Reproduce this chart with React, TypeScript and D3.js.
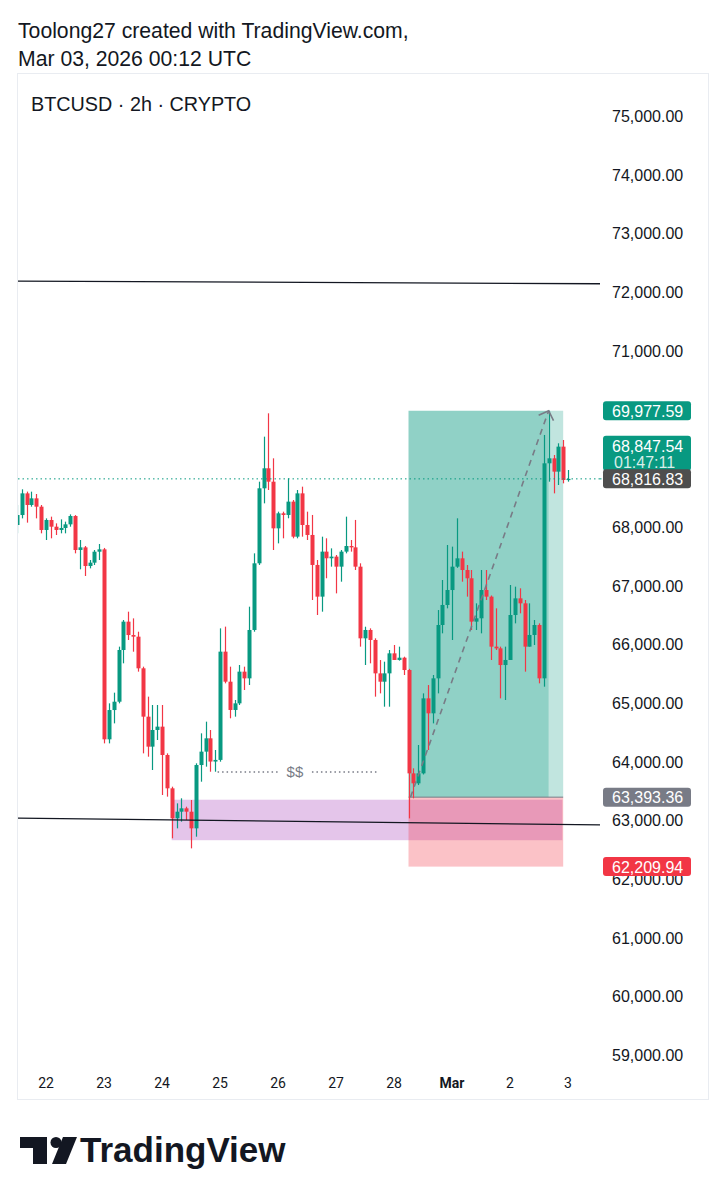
import React from 'react';
import * as d3 from 'd3';

const W = 725;
const H = 1200;

// 2h candles, first candle Feb 21 2026 12:00 UTC
const firstCandle = Date.UTC(2026, 1, 21, 12);
const barMs = 2 * 3600 * 1000;

const opens = [
  68031, 68201, 68570, 68372, 68485, 68343, 67946, 68116, 68002, 67946, 67980, 68042, 68184, 67605, 67650, 67332, 67389, 67576,
  67616, 64379, 64878, 65020, 65901, 66384, 66156, 66128, 65589, 64765, 64254, 64538, 64595, 64112, 63544, 63033, 63146, 63203,
  63146, 62862, 63941, 64169, 64396, 64000, 64028, 65873, 65361, 64879, 64992, 65532, 65418, 66242, 67378, 68656, 68997, 68769,
  67974, 68230, 68202, 68429, 67832, 68570, 68031, 67861, 67350, 66810, 67577, 67464, 67492, 67321, 67577, 67673, 67650, 67321,
  66100, 66242, 66072, 65503, 65361, 65503, 65844, 65731, 65770, 65560, 63799, 63629, 63799, 65077, 64822, 65418, 66327, 66668,
  66923, 67321, 67463, 67264, 67123, 66384, 66441, 66923, 66810, 65958, 65929, 65645, 65731, 66497, 66781, 66696, 65958, 66157,
  66327, 65418, 69082, 69167, 68940, 69366, 68798,
];
const highs = [
  68372, 68639, 68600, 68599, 68559, 68372, 68144, 68173, 68059, 68127, 68088, 68212, 68200, 67775, 67673, 67434, 67605, 67707,
  67640, 64992, 65174, 65958, 66412, 66554, 66440, 66213, 65617, 65106, 64964, 64964, 64964, 64140, 63572, 63288, 63374, 63231,
  63345, 63970, 64481, 64680, 64538, 64197, 66270, 66299, 65617, 65049, 65645, 65617, 66639, 67548, 68769, 69536, 69934, 69167,
  68258, 68258, 68826, 68457, 68627, 68684, 68258, 68202, 67435, 67832, 67804, 67633, 67520, 67605, 68173, 67775, 68117, 67378,
  66298, 66270, 66100, 65730, 65702, 65901, 65986, 65958, 65787, 65580, 63885, 64282, 65162, 65304, 65475, 66582, 67094, 67690,
  67662, 68145, 67577, 67349, 67264, 66696, 67264, 67264, 66830, 66611, 65958, 65958, 67009, 66980, 66952, 66753, 66696, 66412,
  66355, 69565, 69977.59, 69224, 69423, 69479, 68968,
];
const lows = [
  67889, 68144, 68071, 68343, 68144, 67889, 67775, 67804, 67860, 67889, 67889, 68002, 67548, 67276, 67162, 67292, 67349, 67434,
  64310, 64310, 64651, 64992, 65674, 66071, 65872, 65532, 64140, 64083, 63856, 64367, 63430, 63402, 62692, 62862, 62976, 63005,
  62521, 62720, 63657, 63913, 63827, 63827, 63998, 65333, 64737, 64765, 64964, 65219, 65305, 66213, 67350, 68400, 68627, 67605,
  67718, 67804, 68145, 67804, 67804, 67832, 67775, 66753, 66497, 66554, 67123, 67321, 66866, 67065, 67548, 67577, 67264, 65958,
  65645, 65674, 65106, 65162, 64935, 64935, 65731, 65720, 65475, 63032, 63374, 63600, 63780, 64197, 64651, 65162, 66185, 66611,
  66071, 67300, 67065, 66810, 66242, 66242, 66185, 66753, 65731, 65901, 65077, 65049, 65731, 66355, 66526, 65532, 65958, 65986,
  65333, 65276, 68769, 68570, 68712, 68741, 68769,
];
const closes = [
  68201, 68570, 68372, 68485, 68343, 67946, 68116, 68002, 67946, 67980, 68042, 68184, 67605, 67650, 67332, 67389, 67576, 67616,
  64379, 64878, 65020, 65901, 66384, 66156, 66128, 65589, 64765, 64254, 64538, 64595, 64112, 63544, 63033, 63146, 63203, 63146,
  62862, 63941, 64169, 64396, 64000, 64028, 65873, 65361, 64879, 64992, 65532, 65418, 66242, 67378, 68656, 68997, 68769, 67974,
  68230, 68202, 68429, 67832, 68570, 68031, 67861, 67350, 66810, 67577, 67464, 67492, 67321, 67577, 67673, 67650, 67321, 66100,
  66242, 66072, 65503, 65361, 65503, 65844, 65731, 65770, 65560, 63799, 63629, 63799, 65077, 64822, 65418, 66327, 66668, 66923,
  67321, 67463, 67264, 67123, 66384, 66441, 66923, 66810, 65958, 65929, 65645, 65731, 66497, 66781, 66696, 65958, 66157, 66327,
  65418, 69082, 69167, 68940, 69366, 68798, 68816.83,
];

const priceTicks = d3.range(59000, 75001, 1000);
const dayTicks = d3.utcDay.range(new Date(Date.UTC(2026, 1, 22)), new Date(Date.UTC(2026, 2, 3, 1)));

// Drawings (time / price anchors)
const resistanceLine = [
  { t: Date.UTC(2026, 1, 21, 10), p: 72188 },
  { t: Date.UTC(2026, 2, 3, 13, 20), p: 72142 },
];
const supportLine = [
  { t: Date.UTC(2026, 1, 21, 10), p: 63039 },
  { t: Date.UTC(2026, 2, 3, 13, 20), p: 62920 },
];
const demandZone = { t0: Date.UTC(2026, 1, 24, 4), t1: Date.UTC(2026, 2, 2, 21, 40), top: 63350, bottom: 62660 };
const liquidity = { t0: Date.UTC(2026, 1, 24, 23), t1: Date.UTC(2026, 1, 27, 17, 30), p: 63822, label: '$$' };
const longPos = {
  t0: Date.UTC(2026, 1, 28, 6),
  tHit: Date.UTC(2026, 2, 2, 16),
  t1: Date.UTC(2026, 2, 2, 22),
  entry: 63393.36,
  target: 69977.59,
  stop: 62209.94,
};
const lastPrice = 68816.83;
const bidPrice = 68847.54;
const countdown = '01:47:11';

const GREEN = '#089981';
const RED = '#F23645';
const TEXT = '#131722';
const SANS = "'Liberation Sans', Arial, sans-serif";

export default function App() {
  const x = d3
    .scaleUtc()
    .domain([new Date(Date.UTC(2026, 1, 22)), new Date(Date.UTC(2026, 2, 3))])
    .range([46, 568]);
  const y = d3.scaleLinear().domain([59000, 75000]).range([1055, 116]);

  const plotL = 18;
  const plotR = 600;
  const plotT = 78;
  const plotB = 1068;

  const candles = opens.map((o, k) => ({
    t: new Date(firstCandle + k * barMs),
    o,
    h: highs[k],
    l: lows[k],
    c: closes[k],
  }));
  const bodyW = 4;

  const lineAcross = (pts: { t: number; p: number }[]) => {
    const x0 = x(new Date(pts[0].t));
    const x1 = x(new Date(pts[1].t));
    const y0 = y(pts[0].p);
    const y1 = y(pts[1].p);
    const slope = (y1 - y0) / (x1 - x0);
    return { x1: plotL, y1: y0 + (plotL - x0) * slope, x2: plotR, y2: y0 + (plotR - x0) * slope };
  };
  const rl = lineAcross(resistanceLine);
  const sl = lineAcross(supportLine);

  const fmt = d3.format(',.2f');

  const lpX0 = x(new Date(longPos.t0));
  const lpX1 = x(new Date(longPos.t1));
  const lpXh = x(new Date(longPos.tHit));
  const yEntry = y(longPos.entry);
  const yTarget = y(longPos.target);
  const yStop = y(longPos.stop);

  const ax0 = lpX0 + 2;
  const ay0 = yEntry;
  const ax1 = lpXh;
  const ay1 = yTarget;
  const ang = Math.atan2(ay0 - ay1, ax0 - ax1);
  const wing = 11;
  const w1 = { x: ax1 + wing * Math.cos(ang + 0.8), y: ay1 + wing * Math.sin(ang + 0.8) };
  const w2 = { x: ax1 + wing * Math.cos(ang - 0.8), y: ay1 + wing * Math.sin(ang - 0.8) };

  const liqX0 = x(new Date(liquidity.t0));
  const liqX1 = x(new Date(liquidity.t1));
  const liqY = y(liquidity.p);
  const liqMid = (liqX0 + liqX1) / 2 - 3;

  const labelBoxX = 603;
  const labelBoxW = 88;
  const labelTextX = 612;
  const FS = 16;

  const yLast = y(lastPrice);
  // boxes that cover the plain axis labels
  const boxes = [
    [y(longPos.target) - 9.5, y(longPos.target) + 9.5],
    [yLast - 43, yLast + 9.5],
    [y(longPos.entry) - 9.5, y(longPos.entry) + 9.5],
  ];
  const visibleTicks = priceTicks.filter((p) => !boxes.some(([a, b]) => y(p) > a - 3 && y(p) < b + 3));

  const priceLabel = (p: number, bg: string, key: string) => {
    const yy = y(p);
    return (
      <g key={key}>
        <rect x={labelBoxX} y={yy - 9.5} width={labelBoxW} height={19} rx={3} fill={bg} />
        <text x={labelTextX} y={yy + 6} fill="#fff" fontSize={FS} fontFamily={SANS}>
          {fmt(p)}
        </text>
      </g>
    );
  };

  return (
    <svg
      width={W}
      height={H}
      viewBox={`0 0 ${W} ${H}`}
      style={{ position: 'absolute', left: 0, top: 0, background: '#fff' }}
    >
      <rect x={0} y={0} width={W} height={H} fill="#fff" />
      <text x={18} y={38} fontSize={21.2} fill={TEXT} fontFamily={SANS}>
        Toolong27 created with TradingView.com,
      </text>
      <text x={18} y={66} fontSize={21.2} fill={TEXT} fontFamily={SANS}>
        Mar 03, 2026 00:12 UTC
      </text>

      {/* panel */}
      <rect x={17.5} y={73.5} width={691} height={1026} fill="#fff" stroke="#E9ECF1" strokeWidth={1} />

      <text x={31} y={111} fontSize={19.8} fill={TEXT} fontFamily={SANS}>
        BTCUSD · 2h · CRYPTO
      </text>

      <defs>
        <clipPath id="plot">
          <rect x={plotL} y={plotT} width={plotR - plotL} height={plotB - plotT} />
        </clipPath>
      </defs>

      <g clipPath="url(#plot)">
        {/* demand zone */}
        <rect
          x={x(new Date(demandZone.t0))}
          y={y(demandZone.top)}
          width={x(new Date(demandZone.t1)) - x(new Date(demandZone.t0))}
          height={y(demandZone.bottom) - y(demandZone.top)}
          fill="rgba(156,39,176,0.27)"
        />
        {/* long position */}
        <rect x={lpX0} y={yTarget} width={lpXh - lpX0} height={yEntry - yTarget} fill="rgba(8,153,129,0.45)" />
        <rect x={lpXh} y={yTarget} width={lpX1 - lpXh} height={yEntry - yTarget} fill="rgba(8,153,129,0.25)" />
        <rect x={lpX0} y={yEntry} width={lpX1 - lpX0} height={yStop - yEntry} fill="rgba(242,54,69,0.3)" />
        <line x1={lpX0} x2={lpX1} y1={yEntry} y2={yEntry} stroke="#787B86" strokeWidth={1} />

        {/* liquidity line */}
        <line x1={liqX0} x2={liqMid - 15} y1={liqY} y2={liqY} stroke="#787B86" strokeWidth={1.5} strokeDasharray="1.5,3" />
        <line x1={liqMid + 17} x2={liqX1} y1={liqY} y2={liqY} stroke="#787B86" strokeWidth={1.5} strokeDasharray="1.5,3" />
        <text x={liqMid} y={liqY + 5} fontSize={15} fill="#787B86" textAnchor="middle" fontFamily={SANS}>
          {liquidity.label}
        </text>

        {/* candles */}
        {candles.map((d, k) => {
          const cx = Math.round(x(d.t)) + 0.5;
          const col = d.c >= d.o ? GREEN : RED;
          const yt = y(Math.max(d.o, d.c));
          const yb = y(Math.min(d.o, d.c));
          return (
            <g key={k}>
              <line x1={cx} x2={cx} y1={y(d.h)} y2={y(d.l)} stroke={col} strokeWidth={1.2} />
              <rect x={cx - bodyW / 2} y={yt} width={bodyW} height={Math.max(1.2, yb - yt)} fill={col} />
            </g>
          );
        })}

        {/* trend lines */}
        <line {...rl} stroke="#131722" strokeWidth={1.3} />
        <line {...sl} stroke="#131722" strokeWidth={1.3} />

        {/* projected path */}
        <line x1={ax0} y1={ay0} x2={ax1} y2={ay1} stroke="#787B86" strokeWidth={1.6} strokeDasharray="6,5" />
        <path d={`M${w1.x},${w1.y}L${ax1},${ay1}L${w2.x},${w2.y}`} fill="none" stroke="#787B86" strokeWidth={1.6} />

        {/* last price line */}
        <line x1={plotL} x2={plotR} y1={yLast} y2={yLast} stroke={GREEN} strokeWidth={1} strokeDasharray="1.5,3" />
      </g>

      {/* price axis */}
      {visibleTicks.map((p) => (
        <text key={p} x={labelTextX} y={y(p) + 6} fontSize={FS} fill={TEXT} fontFamily={SANS}>
          {fmt(p)}
        </text>
      ))}
      <line x1={plotR} x2={labelBoxX} y1={yLast} y2={yLast} stroke={GREEN} strokeWidth={1} strokeDasharray="1.5,3" />

      {priceLabel(longPos.target, GREEN, 'tgt')}
      <g>
        <rect x={labelBoxX} y={yLast - 43} width={labelBoxW} height={35} rx={3} fill={GREEN} />
        <text x={labelTextX} y={yLast - 27} fill="#fff" fontSize={FS} fontFamily={SANS}>
          {fmt(bidPrice)}
        </text>
        <text x={labelTextX + 2} y={yLast - 11} fill="rgba(255,255,255,0.85)" fontSize={FS} fontFamily={SANS}>
          {countdown}
        </text>
      </g>
      {priceLabel(lastPrice, '#4E4E4E', 'last')}
      {priceLabel(longPos.entry, '#787B86', 'entry')}
      {priceLabel(longPos.stop, RED, 'stop')}

      {/* time axis */}
      {dayTicks.map((d) => {
        const first = d.getUTCDate() === 1;
        return (
          <text
            key={+d}
            x={x(d)}
            y={1088}
            textAnchor="middle"
            fontSize={14}
            fontWeight={first ? 700 : 400}
            fill={TEXT}
            fontFamily="Roboto, sans-serif"
          >
            {first ? d3.utcFormat('%b')(d) : d3.utcFormat('%-d')(d)}
          </text>
        );
      })}

      {/* TradingView logo */}
      <g fill="#131722">
        <path d="M20,1137 H47 V1164 H33 V1148 H20 Z" />
        <circle cx={56} cy={1142.5} r={5.5} />
        <path d="M63,1137 H77 L66,1164 H52 Z" />
      </g>
      <text x={80} y={1162} fontSize={35} fontWeight={700} fill="#131722" fontFamily={SANS}>
        TradingView
      </text>
    </svg>
  );
}
